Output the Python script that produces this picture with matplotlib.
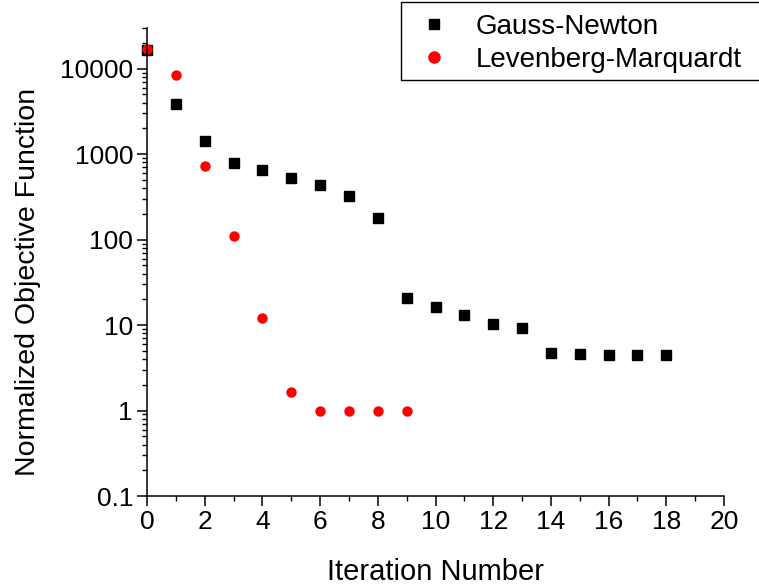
import matplotlib.pyplot as plt
from matplotlib.patches import Rectangle
from matplotlib.ticker import FuncFormatter, MultipleLocator, LogLocator, NullFormatter

plt.rcParams['font.family'] = ['Liberation Sans', 'DejaVu Sans']

# values
gn_iter = [0, 1, 2, 3, 4, 5, 6, 7, 8, 9, 10, 11, 12, 13, 14, 15, 16, 17, 18]
gn_obj = [16500, 3850, 1420, 790, 650, 528, 434, 323, 180, 20.8, 16.2, 13.0,
          10.2, 9.2, 4.74, 4.6, 4.42, 4.42, 4.42]

lm_iter = [0, 1, 2, 3, 4, 5, 6, 7, 8, 9]
lm_obj = [16900, 8400, 730, 110, 12.2, 1.66, 0.98, 0.98, 0.98, 0.98]

fig = plt.figure(figsize=(7.59, 5.87), dpi=100)
ax = fig.add_axes([147 / 759, 1 - 496 / 587, (724 - 147) / 759, (496 - 28) / 587])

ax.plot(gn_iter, gn_obj, linestyle='none', marker='s', ms=6.5, color='black',
        label='Gauss-Newton', clip_on=False)
ax.plot(lm_iter, lm_obj, linestyle='none', marker='o', ms=7.5, color='#ff0000',
        markeredgewidth=0, label='Levenberg-Marquardt', clip_on=False)

ax.set_yscale('log')
ax.set_xlim(0, 20)
ax.set_ylim(0.1, 30000)

ax.xaxis.set_major_locator(MultipleLocator(2))
ax.xaxis.set_minor_locator(MultipleLocator(1))
ax.yaxis.set_major_locator(LogLocator(base=10, numticks=10))
ax.yaxis.set_minor_locator(LogLocator(base=10, subs=range(2, 10), numticks=20))
ax.yaxis.set_major_formatter(FuncFormatter(lambda v, p: f'{v:g}'))
ax.yaxis.set_minor_formatter(NullFormatter())

for s in ['top', 'right']:
    ax.spines[s].set_visible(False)
for s in ['left', 'bottom']:
    ax.spines[s].set_linewidth(1.1)

ax.tick_params(which='major', direction='out', length=7, width=1.1, labelsize=19, pad=3)
ax.tick_params(which='minor', direction='out', length=3.8, width=1.0)

ax.set_xlabel('Iteration Number', fontsize=21, labelpad=17)
ax.set_ylabel('Normalized Objective Function', fontsize=20.5)
ax.yaxis.set_label_coords(-0.183, 0.457)

# legend without its own frame; box drawn separately so it runs off the right edge
leg = fig.legend(loc='upper left', bbox_to_anchor=(401 / 759, 1.0),
                 fontsize=20, frameon=False, borderpad=0.5, handlelength=1.35,
                 handletextpad=0.85, labelspacing=0.25, borderaxespad=0,
                 markerscale=1.2)
fig.patches.append(Rectangle((401 / 759, 1 - 80 / 587), 380 / 759, 78 / 587,
                             transform=fig.transFigure, fill=False,
                             edgecolor='black', linewidth=1.0))

fig.savefig('out.png', dpi=100)
